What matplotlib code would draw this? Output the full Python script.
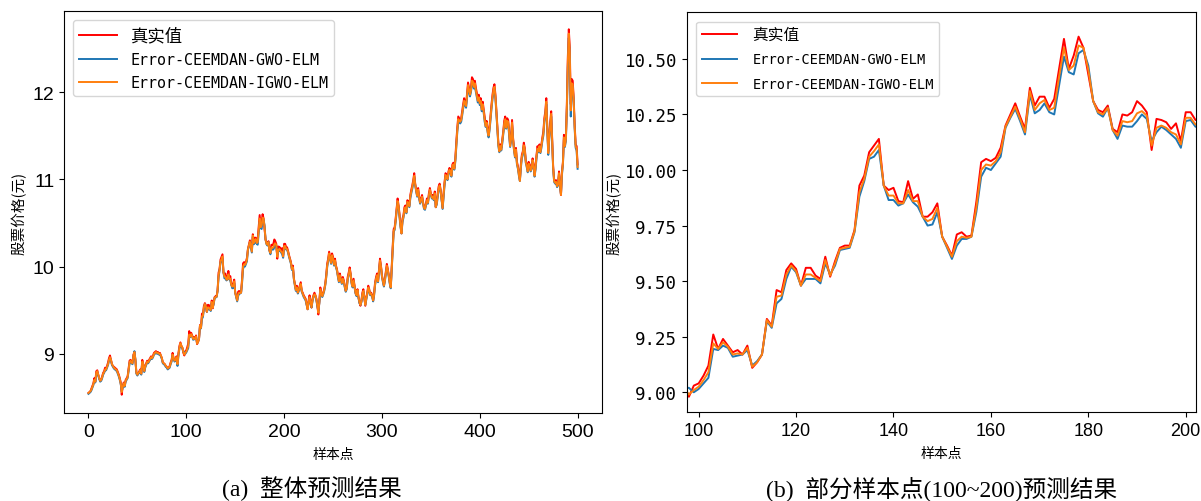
import numpy as np
import matplotlib
matplotlib.use('Agg')
import matplotlib.pyplot as plt

plt.rcParams['font.family'] = ['Noto Sans CJK SC', 'DejaVu Sans']
plt.rcParams['axes.unicode_minus'] = False

# 真实值
true_price = [
    8.55, 8.56, 8.57, 8.60, 8.63, 8.66, 8.72, 8.68, 8.80, 8.81,
    8.76, 8.72, 8.69, 8.70, 8.74, 8.78, 8.80, 8.84, 8.83, 8.86,
    8.90, 8.95, 8.98, 8.93, 8.88, 8.86, 8.85, 8.84, 8.83, 8.82,
    8.79, 8.76, 8.72, 8.67, 8.53, 8.63, 8.67, 8.63, 8.70, 8.72,
    8.74, 8.83, 8.92, 8.93, 8.91, 8.90, 8.99, 9.02, 8.92, 8.78,
    8.76, 8.78, 8.80, 8.82, 8.78, 8.93, 8.88, 8.80, 8.86, 8.89,
    8.92, 8.90, 8.93, 8.95, 8.97, 8.95, 8.98, 9.01, 9.02, 9.03,
    9.01, 9.02, 9.00, 9.01, 8.98, 8.95, 8.90, 8.89, 8.88, 8.86,
    8.85, 8.83, 8.84, 8.86, 8.90, 8.93, 9.01, 8.95, 8.92, 8.93,
    8.97, 8.90, 9.01, 9.09, 9.13, 9.09, 9.07, 9.01, 8.98, 9.03,
    9.04, 9.075, 9.12, 9.26, 9.195, 9.24, 9.21, 9.18, 9.19, 9.17,
    9.21, 9.11, 9.135, 9.17, 9.33, 9.30, 9.46, 9.45, 9.55, 9.58,
    9.555, 9.48, 9.56, 9.56, 9.525, 9.51, 9.61, 9.52, 9.59, 9.65,
    9.66, 9.66, 9.73, 9.93, 9.975, 10.08, 10.11, 10.14, 9.93, 9.91,
    9.92, 9.86, 9.855, 9.95, 9.87, 9.89, 9.79, 9.79, 9.81, 9.85,
    9.70, 9.66, 9.615, 9.71, 9.72, 9.70, 9.705, 9.855, 10.035, 10.05,
    10.04, 10.055, 10.10, 10.20, 10.25, 10.30, 10.24, 10.185, 10.37, 10.29,
    10.33, 10.33, 10.28, 10.32, 10.455, 10.59, 10.455, 10.515, 10.60, 10.55,
    10.43, 10.31, 10.27, 10.26, 10.29, 10.185, 10.17, 10.25, 10.245, 10.26,
    10.31, 10.29, 10.26, 10.09, 10.23, 10.225, 10.215, 10.185, 10.21, 10.13,
    10.26, 10.26, 10.225, 10.22, 10.18, 10.13, 10.09, 10.05, 9.97, 10.01,
    9.86, 9.80, 9.74, 9.78, 9.70, 9.74, 9.78, 9.82, 9.72, 9.70,
    9.67, 9.65, 9.63, 9.57, 9.51, 9.61, 9.67, 9.59, 9.53, 9.63,
    9.67, 9.70, 9.67, 9.63, 9.55, 9.45, 9.61, 9.76, 9.70, 9.67,
    9.70, 9.74, 9.80, 9.90, 10.03, 10.09, 10.17, 10.11, 10.05, 10.15,
    10.11, 10.03, 10.09, 10.01, 9.97, 9.90, 9.84, 9.92, 9.86, 9.82,
    9.88, 9.84, 9.78, 9.72, 9.76, 9.88, 9.93, 9.99, 9.92, 9.82,
    9.78, 9.86, 9.78, 9.70, 9.67, 9.74, 9.65, 9.59, 9.55, 9.61,
    9.70, 9.74, 9.65, 9.55, 9.65, 9.70, 9.78, 9.74, 9.68, 9.70,
    9.67, 9.61, 9.70, 9.82, 9.88, 9.92, 9.84, 9.97, 10.09, 10.01,
    9.90, 9.84, 9.78, 9.86, 9.95, 10.03, 9.97, 9.90, 9.82, 9.76,
    10.01, 10.24, 10.43, 10.45, 10.55, 10.67, 10.78, 10.70, 10.59, 10.47,
    10.38, 10.55, 10.59, 10.68, 10.70, 10.63, 10.76, 10.74, 10.70, 10.82,
    10.88, 10.93, 10.99, 11.07, 10.95, 10.88, 10.82, 10.90, 10.80, 10.74,
    10.78, 10.82, 10.74, 10.68, 10.67, 10.72, 10.78, 10.74, 10.84, 10.90,
    10.84, 10.80, 10.82, 10.78, 10.86, 10.68, 10.74, 10.84, 10.92, 10.95,
    10.88, 10.78, 10.67, 10.84, 10.97, 11.07, 11.05, 11.01, 11.09, 11.13,
    11.11, 11.05, 11.17, 11.19, 11.13, 11.24, 11.43, 11.59, 11.72, 11.70,
    11.68, 11.70, 11.78, 11.86, 11.93, 11.89, 11.86, 11.99, 12.11, 12.05,
    11.99, 12.05, 12.17, 12.15, 12.09, 12.13, 12.05, 11.99, 11.93, 11.97,
    11.89, 11.93, 11.82, 11.89, 11.80, 11.70, 11.63, 11.67, 11.57, 11.53,
    11.61, 11.74, 11.86, 11.97, 12.05, 12.09, 11.97, 11.78, 11.59, 11.42,
    11.34, 11.40, 11.36, 11.45, 11.55, 11.67, 11.72, 11.61, 11.70, 11.68,
    11.55, 11.40, 11.48, 11.68, 11.48, 11.36, 11.28, 11.36, 11.20, 11.15,
    11.07, 10.99, 11.17, 11.28, 11.32, 11.42, 11.36, 11.22, 11.17, 11.11,
    11.20, 11.17, 11.11, 11.15, 11.24, 11.17, 11.05, 11.15, 11.28, 11.38,
    11.34, 11.40, 11.32, 11.40, 11.48, 11.55, 11.70, 11.78, 11.93, 11.60,
    11.32, 11.50, 11.65, 11.78, 11.45, 11.15, 11.00, 10.97, 10.99, 10.93,
    10.95, 11.09, 10.93, 10.82, 11.09, 11.20, 11.51, 11.40, 11.48, 11.86,
    12.40, 12.72, 12.51, 11.86, 12.15, 12.13, 11.93, 11.63, 11.40, 11.38, 11.17,
]

# Error-CEEMDAN-GWO-ELM
gwo_pred = [
    8.54, 8.55, 8.56, 8.58, 8.61, 8.64, 8.69, 8.67, 8.76, 8.79,
    8.75, 8.71, 8.68, 8.69, 8.72, 8.76, 8.78, 8.81, 8.81, 8.84,
    8.87, 8.92, 8.95, 8.92, 8.87, 8.85, 8.83, 8.82, 8.81, 8.80,
    8.77, 8.74, 8.70, 8.65, 8.57, 8.61, 8.65, 8.62, 8.68, 8.70,
    8.72, 8.80, 8.89, 8.91, 8.89, 8.88, 8.97, 9.03, 8.93, 8.77,
    8.75, 8.77, 8.78, 8.80, 8.76, 8.90, 8.87, 8.79, 8.84, 8.87,
    8.90, 8.89, 8.91, 8.93, 8.95, 8.94, 8.96, 8.99, 9.00, 9.01,
    9.00, 9.00, 8.99, 8.99, 8.97, 8.94, 8.89, 8.88, 8.87, 8.85,
    8.84, 8.82, 8.83, 8.84, 8.88, 8.91, 8.98, 8.94, 8.91, 8.92,
    8.95, 8.86, 8.98, 9.06, 9.11, 9.08, 9.06, 9.02, 9.02, 9.00,
    9.015, 9.04, 9.065, 9.195, 9.19, 9.21, 9.20, 9.16, 9.165, 9.17,
    9.19, 9.12, 9.14, 9.17, 9.32, 9.29, 9.40, 9.42, 9.51, 9.565,
    9.54, 9.48, 9.51, 9.51, 9.51, 9.49, 9.58, 9.53, 9.57, 9.64,
    9.645, 9.65, 9.72, 9.88, 9.95, 10.05, 10.06, 10.09, 9.93, 9.865,
    9.865, 9.84, 9.85, 9.89, 9.855, 9.835, 9.79, 9.75, 9.755, 9.81,
    9.70, 9.65, 9.60, 9.66, 9.69, 9.69, 9.70, 9.81, 9.97, 10.01,
    10.00, 10.03, 10.06, 10.19, 10.235, 10.275, 10.22, 10.16, 10.34, 10.255,
    10.27, 10.30, 10.26, 10.25, 10.38, 10.51, 10.44, 10.43, 10.525, 10.54,
    10.47, 10.31, 10.255, 10.24, 10.28, 10.18, 10.14, 10.20, 10.195, 10.195,
    10.22, 10.25, 10.23, 10.13, 10.17, 10.195, 10.18, 10.16, 10.14, 10.10,
    10.22, 10.225, 10.195, 10.19, 10.16, 10.11, 10.07, 10.03, 9.96, 9.98,
    9.85, 9.78, 9.72, 9.75, 9.69, 9.72, 9.76, 9.79, 9.71, 9.68,
    9.65, 9.63, 9.61, 9.56, 9.51, 9.58, 9.64, 9.58, 9.53, 9.60,
    9.65, 9.67, 9.66, 9.61, 9.54, 9.49, 9.58, 9.72, 9.69, 9.65,
    9.68, 9.72, 9.78, 9.87, 9.99, 10.06, 10.13, 10.09, 10.03, 10.11,
    10.08, 10.01, 10.06, 9.99, 9.95, 9.88, 9.82, 9.89, 9.84, 9.80,
    9.85, 9.82, 9.76, 9.71, 9.74, 9.85, 9.90, 9.95, 9.90, 9.80,
    9.76, 9.83, 9.76, 9.69, 9.66, 9.72, 9.64, 9.58, 9.56, 9.59,
    9.67, 9.71, 9.64, 9.56, 9.62, 9.68, 9.75, 9.72, 9.67, 9.68,
    9.65, 9.60, 9.67, 9.79, 9.85, 9.89, 9.82, 9.94, 10.05, 9.99,
    9.88, 9.82, 9.77, 9.83, 9.92, 9.99, 9.95, 9.88, 9.80, 9.75,
    9.96, 10.19, 10.40, 10.42, 10.51, 10.63, 10.73, 10.68, 10.57, 10.45,
    10.38, 10.51, 10.56, 10.64, 10.67, 10.61, 10.72, 10.72, 10.68, 10.78,
    10.84, 10.89, 10.95, 11.02, 10.93, 10.86, 10.80, 10.86, 10.78, 10.72,
    10.75, 10.79, 10.72, 10.66, 10.65, 10.70, 10.75, 10.72, 10.81, 10.86,
    10.82, 10.78, 10.79, 10.76, 10.83, 10.68, 10.71, 10.80, 10.88, 10.91,
    10.86, 10.76, 10.66, 10.80, 10.93, 11.03, 11.02, 10.99, 11.05, 11.09,
    11.08, 11.03, 11.13, 11.15, 11.11, 11.20, 11.38, 11.54, 11.66, 11.65,
    11.64, 11.66, 11.73, 11.81, 11.88, 11.85, 11.82, 11.94, 12.05, 12.01,
    11.95, 12.00, 12.10, 12.09, 12.04, 12.07, 12.00, 11.94, 11.88, 11.92,
    11.85, 11.88, 11.78, 11.84, 11.76, 11.66, 11.60, 11.63, 11.54, 11.48,
    11.56, 11.69, 11.81, 11.92, 11.99, 12.03, 11.93, 11.74, 11.55, 11.38,
    11.31, 11.36, 11.33, 11.41, 11.51, 11.62, 11.66, 11.58, 11.65, 11.64,
    11.51, 11.37, 11.44, 11.62, 11.45, 11.33, 11.25, 11.32, 11.17, 11.12,
    11.04, 10.98, 11.13, 11.24, 11.28, 11.37, 11.33, 11.19, 11.14, 11.08,
    11.16, 11.14, 11.09, 11.12, 11.20, 11.14, 11.03, 11.11, 11.24, 11.33,
    11.31, 11.36, 11.30, 11.36, 11.44, 11.50, 11.65, 11.73, 11.86, 11.56,
    11.28, 11.46, 11.60, 11.72, 11.42, 11.12, 10.97, 10.95, 10.96, 10.91,
    10.93, 11.05, 10.91, 10.83, 11.05, 11.17, 11.45, 11.37, 11.44, 11.78,
    12.28, 12.62, 12.40, 11.72, 12.05, 12.06, 11.88, 11.58, 11.36, 11.33, 11.12,
]

# Error-CEEMDAN-IGWO-ELM
igwo_pred = [
    8.55, 8.56, 8.57, 8.59, 8.62, 8.65, 8.70, 8.68, 8.78, 8.80,
    8.76, 8.72, 8.69, 8.70, 8.73, 8.77, 8.79, 8.82, 8.82, 8.85,
    8.88, 8.93, 8.96, 8.93, 8.88, 8.86, 8.84, 8.83, 8.82, 8.81,
    8.78, 8.75, 8.71, 8.66, 8.56, 8.62, 8.66, 8.63, 8.69, 8.71,
    8.73, 8.81, 8.90, 8.92, 8.90, 8.89, 8.98, 9.02, 8.93, 8.78,
    8.76, 8.78, 8.79, 8.81, 8.77, 8.91, 8.88, 8.80, 8.85, 8.88,
    8.91, 8.90, 8.92, 8.94, 8.96, 8.95, 8.97, 9.00, 9.01, 9.02,
    9.01, 9.01, 9.00, 9.00, 8.98, 8.95, 8.90, 8.89, 8.88, 8.86,
    8.85, 8.83, 8.84, 8.85, 8.89, 8.92, 8.99, 8.95, 8.92, 8.93,
    8.96, 8.88, 8.99, 9.07, 9.12, 9.09, 9.07, 9.02, 8.99, 9.01,
    9.025, 9.055, 9.09, 9.22, 9.195, 9.225, 9.205, 9.17, 9.175, 9.17,
    9.20, 9.115, 9.135, 9.17, 9.325, 9.295, 9.43, 9.435, 9.53, 9.57,
    9.545, 9.48, 9.53, 9.53, 9.515, 9.50, 9.595, 9.525, 9.58, 9.645,
    9.65, 9.655, 9.725, 9.90, 9.96, 10.06, 10.085, 10.115, 9.93, 9.885,
    9.885, 9.85, 9.85, 9.91, 9.86, 9.86, 9.79, 9.77, 9.78, 9.83,
    9.70, 9.655, 9.61, 9.68, 9.70, 9.695, 9.70, 9.83, 10.00, 10.025,
    10.02, 10.04, 10.08, 10.195, 10.24, 10.285, 10.23, 10.17, 10.355, 10.27,
    10.30, 10.315, 10.27, 10.28, 10.42, 10.55, 10.45, 10.47, 10.56, 10.55,
    10.45, 10.31, 10.26, 10.25, 10.28, 10.18, 10.155, 10.22, 10.215, 10.22,
    10.255, 10.265, 10.245, 10.11, 10.19, 10.20, 10.19, 10.17, 10.16, 10.115,
    10.235, 10.235, 10.205, 10.20, 10.17, 10.12, 10.08, 10.04, 9.97, 9.99,
    9.86, 9.79, 9.73, 9.76, 9.70, 9.73, 9.77, 9.80, 9.72, 9.69,
    9.66, 9.64, 9.62, 9.57, 9.51, 9.59, 9.65, 9.59, 9.53, 9.61,
    9.66, 9.68, 9.67, 9.62, 9.55, 9.47, 9.59, 9.74, 9.70, 9.66,
    9.69, 9.73, 9.79, 9.88, 10.01, 10.07, 10.15, 10.10, 10.04, 10.13,
    10.09, 10.02, 10.07, 10.00, 9.96, 9.89, 9.83, 9.90, 9.85, 9.81,
    9.86, 9.83, 9.77, 9.72, 9.75, 9.86, 9.91, 9.97, 9.91, 9.81,
    9.77, 9.84, 9.77, 9.70, 9.67, 9.73, 9.65, 9.59, 9.56, 9.60,
    9.68, 9.72, 9.65, 9.56, 9.63, 9.69, 9.76, 9.73, 9.68, 9.69,
    9.66, 9.61, 9.68, 9.80, 9.86, 9.90, 9.83, 9.95, 10.07, 10.00,
    9.89, 9.83, 9.78, 9.84, 9.93, 10.01, 9.96, 9.89, 9.81, 9.76,
    9.98, 10.21, 10.41, 10.43, 10.53, 10.65, 10.75, 10.69, 10.58, 10.46,
    10.38, 10.53, 10.57, 10.66, 10.68, 10.62, 10.74, 10.73, 10.69, 10.80,
    10.86, 10.91, 10.97, 11.04, 10.94, 10.87, 10.81, 10.88, 10.79, 10.73,
    10.76, 10.80, 10.73, 10.67, 10.66, 10.71, 10.76, 10.73, 10.82, 10.88,
    10.83, 10.79, 10.80, 10.77, 10.84, 10.68, 10.72, 10.82, 10.90, 10.93,
    10.87, 10.77, 10.67, 10.82, 10.95, 11.05, 11.03, 11.00, 11.07, 11.11,
    11.09, 11.04, 11.15, 11.17, 11.12, 11.22, 11.40, 11.56, 11.69, 11.67,
    11.66, 11.68, 11.75, 11.83, 11.90, 11.87, 11.84, 11.96, 12.08, 12.03,
    11.97, 12.02, 12.13, 12.12, 12.06, 12.10, 12.02, 11.96, 11.90, 11.94,
    11.87, 11.90, 11.80, 11.86, 11.78, 11.68, 11.61, 11.65, 11.55, 11.50,
    11.58, 11.71, 11.83, 11.94, 12.02, 12.06, 11.95, 11.76, 11.57, 11.40,
    11.32, 11.38, 11.34, 11.43, 11.53, 11.64, 11.69, 11.59, 11.67, 11.66,
    11.53, 11.38, 11.46, 11.65, 11.46, 11.34, 11.26, 11.34, 11.18, 11.13,
    11.05, 10.98, 11.15, 11.26, 11.30, 11.39, 11.34, 11.20, 11.15, 11.09,
    11.18, 11.15, 11.10, 11.13, 11.22, 11.15, 11.04, 11.13, 11.26, 11.35,
    11.32, 11.38, 11.31, 11.38, 11.46, 11.52, 11.67, 11.75, 11.89, 11.58,
    11.30, 11.48, 11.62, 11.75, 11.43, 11.13, 10.98, 10.96, 10.97, 10.92,
    10.94, 11.07, 10.92, 10.82, 11.07, 11.18, 11.48, 11.38, 11.46, 11.82,
    12.34, 12.67, 12.45, 11.79, 12.10, 12.09, 11.90, 11.60, 11.38, 11.35, 11.14,
]

assert len(true_price) == len(gwo_pred) == len(igwo_pred), (len(true_price), len(gwo_pred), len(igwo_pred))

series_labels = ['真实值', 'Error-CEEMDAN-GWO-ELM', 'Error-CEEMDAN-IGWO-ELM']
series_colors = ['#ff0000', '#1f77b4', '#ff7f0e']
left_yticks = [9, 10, 11, 12]
left_xticks = [0, 100, 200, 300, 400, 500]
right_yticks = [9.00, 9.25, 9.50, 9.75, 10.00, 10.25, 10.50]
right_xticks = [100, 120, 140, 160, 180, 200]

x = np.arange(len(true_price))
data = [true_price, gwo_pred, igwo_pred]

fig = plt.figure(figsize=(12.01, 5.02), dpi=100)
ax1 = fig.add_axes([0.0533, 0.1753, 0.448, 0.8008])
ax2 = fig.add_axes([0.572, 0.1767, 0.4238, 0.797])

mono_cjk = ['DejaVu Sans Mono', 'Noto Sans CJK SC']


def style_legend(leg, latin_size, cjk_size):
    texts = leg.get_texts()
    texts[0].set_fontsize(cjk_size)
    for t in texts[1:]:
        t.set_fontsize(latin_size)


# (a) overall
for ys, lab, c in zip(data, series_labels, series_colors):
    ax1.plot(x, ys, color=c, lw=1.4, label=lab)
ax1.set_xticks(left_xticks)
ax1.set_yticks(left_yticks)
for t in ax1.get_xticklabels() + ax1.get_yticklabels():
    t.set_family('Liberation Sans')
    t.set_fontsize(14)
ax1.set_xlabel('样本点', fontsize=10, labelpad=5)
ax1.set_ylabel('股票价格(元)', fontsize=10.5)
leg1 = ax1.legend(loc='upper left', prop={'family': mono_cjk, 'size': 10.8},
                  handlelength=2.5, handletextpad=0.9, borderaxespad=0.6,
                  labelspacing=0.55)
style_legend(leg1, 10.8, 12.5)

# (b) 100~200 detail
for ys, lab, c in zip(data, series_labels, series_colors):
    ax2.plot(x, ys, color=c, lw=1.4, label=lab)
ax2.set_xlim(97.6, 202.1)
ax2.set_ylim(8.91, 10.71)
ax2.set_xticks(right_xticks)
ax2.set_yticks(right_yticks)
ax2.set_yticklabels(['%.2f' % v for v in right_yticks])
for t in ax2.get_xticklabels():
    t.set_family('Liberation Sans')
    t.set_fontsize(13)
for t in ax2.get_yticklabels():
    t.set_family('DejaVu Sans Mono')
    t.set_fontsize(12.5)
ax2.set_xlabel('样本点', fontsize=10, labelpad=5)
ax2.set_ylabel('股票价格(元)', fontsize=10.5, labelpad=2)
leg2 = ax2.legend(loc='upper left', prop={'family': mono_cjk, 'size': 9.8},
                  handlelength=2.6, handletextpad=1.1, borderaxespad=0.7,
                  labelspacing=0.75)
style_legend(leg2, 9.8, 11.3)

cap_font = ['Liberation Serif', 'Noto Sans CJK SC']
fig.text(0.2597, 0.027, '(a)  整体预测结果', ha='center', va='center', fontsize=17, family=cap_font)
fig.text(0.784, 0.027, '(b)  部分样本点(100~200)预测结果', ha='center', va='center', fontsize=17, family=cap_font)

fig.savefig('out.png', dpi=100)
plt.close(fig)
